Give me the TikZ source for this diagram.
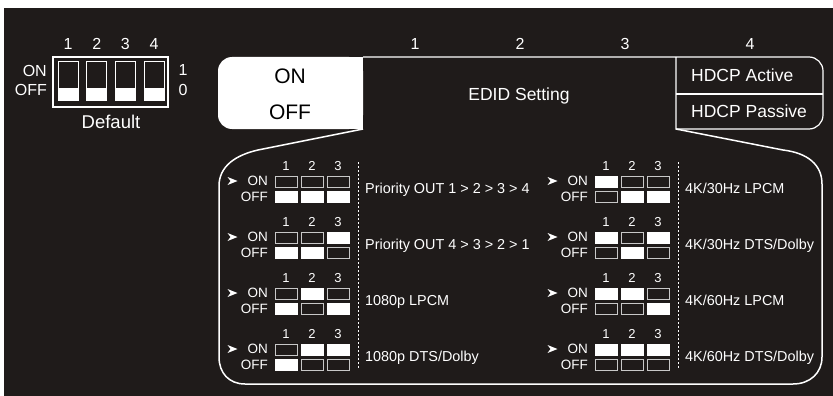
\documentclass[tikz,border=0pt]{standalone}
\usepackage{fontspec}
\setmainfont{Liberation Sans}
\usetikzlibrary{positioning}
\definecolor{panel}{HTML}{1F1B1A}
\definecolor{pinline}{HTML}{C8C8C8}
\newcommand{\fsz}[1]{\fontsize{#1}{#1}\selectfont}
\tikzset{
  txt/.style={text=white, inner sep=0pt, text depth=0pt},
  toplbl/.style={txt, font=\fsz{16}, text height=11.5pt},
  headlbl/.style={txt, font=\fsz{17.5}, text height=12.5pt},
  swlbl/.style={txt, font=\fsz{21}, text height=15pt, text=black},
  modelbl/.style={txt, font=\fsz{14.4}, text height=10.3pt, anchor=west},
  pinnum/.style={txt, font=\fsz{13}, text height=9.3pt},
  pinlbl/.style={txt, font=\fsz{13.5}, text height=9.7pt, anchor=east},
  frame/.style={draw=white, line width=1.2pt},
  divider/.style={draw=white, line width=1pt, dash pattern=on 2.2pt off 1.8pt},
  lever/.style={rectangle, inner sep=0pt, outer sep=0pt,
                minimum width=22pt, minimum height=11pt},
  lever0/.style={lever, draw=pinline, line width=0.8pt},
  lever1/.style={lever, draw=white, fill=white, line width=0.8pt},
  leveroff0/.style={lever1},
  leveroff1/.style={lever0}
}

\begin{document}
\begin{tikzpicture}[x=1pt,y=1pt]
  \useasboundingbox (0,0) rectangle (833,-396);
  \fill[white] (0,0) rectangle (833,-396);
  \fill[panel] (4,-8) rectangle (833,-396);

  % default dip switch
  \draw[frame] (53,-57) rectangle (168,-107);
  \foreach \i in {0,...,3}{
    \draw[frame, line width=1pt] ({58+28.7*\i},-62) rectangle ({78+28.7*\i},-100);
    \fill[white] ({58+28.7*\i},-88) rectangle ({78+28.7*\i},-100);
    \node[toplbl] (dipnum\i) at ({68+28.7*\i},-44) {\pgfmathparse{int(\i+1)}\pgfmathresult};
  }
  \node[toplbl, anchor=east] (dipon) at (47,-71) {ON};
  \node[toplbl, anchor=east] (dipoff) at (47,-90) {OFF};
  \node[toplbl] (dipone) at (183,-70) {1};
  \node[toplbl] (dipzero) at (183,-90) {0};
  \node[headlbl, font=\fsz{18.5}, text height=13.2pt] (default) at (111,-122) {Default};

  % header bar
  \foreach \n/\x in {1/415,2/520,3/625,4/750}
    \node[toplbl] (col\n) at (\x,-44) {\n};
  \fill[white, rounded corners=14pt] (218,-57) rectangle (363,-129);
  \fill[white] (320,-57) rectangle (363,-129);
  \draw[frame] (363,-57) -- (809,-57) arc[start angle=90, end angle=0, radius=14pt]
    -- (823,-115) arc[start angle=0, end angle=-90, radius=14pt] -- (676,-129) -- (676,-57);
  \draw[frame] (676,-94) -- (823,-94);
  \node[swlbl] (hdon) at (290,-76) {ON};
  \node[swlbl] (hdoff) at (290,-111.5) {OFF};
  \node[headlbl] (edid) at (519,-94) {EDID Setting};
  \node[headlbl, anchor=west] (active) at (691,-75) {HDCP Active};
  \node[headlbl, anchor=west] (passive) at (691,-111) {HDCP Passive};

  % lower panel
  \draw[frame, line width=1.5pt] (363,-129) -- (258,-150)
    .. controls (236,-155) and (219,-166) .. (219,-186) -- (219,-357)
    .. controls (219,-373) and (229,-384) .. (245,-384) -- (793,-384)
    .. controls (810,-384) and (822,-373) .. (822,-357) -- (822,-184)
    .. controls (822,-165) and (808,-153) .. (783,-150) -- (676,-129);
  \draw[divider] (358,-162) -- (358,-368);
  \draw[divider] (678,-162) -- (678,-368);

  \foreach \c/\r/\ba/\bb/\bc/\mode in {
      0/0/0/0/0/{Priority OUT 1 > 2 > 3 > 4},
      0/1/0/0/1/{Priority OUT 4 > 3 > 2 > 1},
      0/2/0/1/0/{1080p LPCM},
      0/3/0/1/1/{1080p DTS/Dolby},
      1/0/1/0/0/{4K/30Hz LPCM},
      1/1/1/0/1/{4K/30Hz DTS/Dolby},
      1/2/1/1/0/{4K/60Hz LPCM},
      1/3/1/1/1/{4K/60Hz DTS/Dolby}}{
    \pgfmathsetmacro{\X}{320*\c}
    \pgfmathsetmacro{\Y}{166+56*\r}
    \fill[white] (\X+227.5,-\Y-11) -- (\X+237.5,-\Y-15) -- (\X+227.5,-\Y-19)
      -- (\X+230.5,-\Y-15) -- cycle;
    \node[pinlbl] (on\c\r) at (\X+268,-\Y-15) {ON};
    \node[pinlbl] (off\c\r) at (\X+268,-\Y-31) {OFF};
    \foreach \k/\b in {1/\ba,2/\bb,3/\bc}{
      \node[pinnum] (num\c\r\k) at (\X+260+26*\k,-\Y) {\k};
      \node[lever\b] (up\c\r\k) at (\X+260+26*\k,-\Y-15.5) {};
      \node[leveroff\b] (down\c\r\k) at (\X+260+26*\k,-\Y-31) {};
    }
    \node[modelbl] (mode\c\r) at (\X+365,-\Y-22.5) {\mode};
  }
\end{tikzpicture}
\end{document}
